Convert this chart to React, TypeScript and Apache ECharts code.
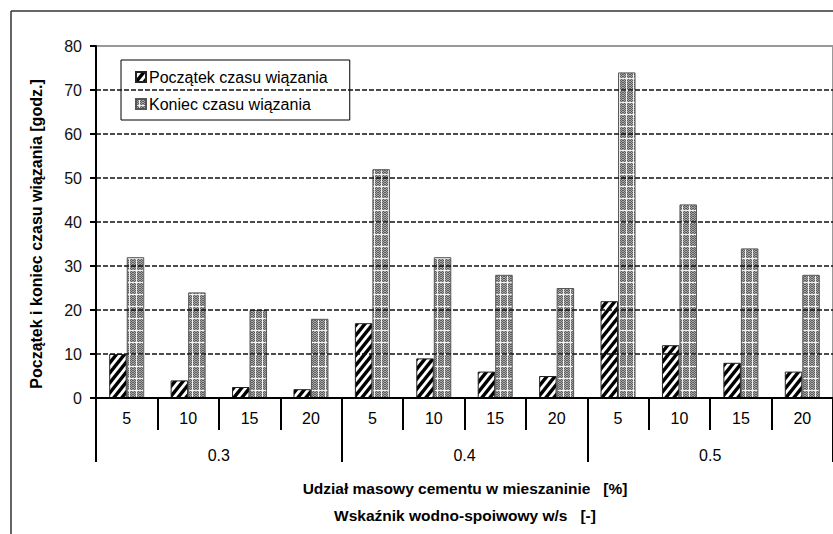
import React, { useEffect, useRef } from 'react';
import * as echarts from 'echarts';

const cementShare = ['5', '10', '15', '20', '5', '10', '15', '20', '5', '10', '15', '20'];
const wsRatio = ['0.3', '0.4', '0.5'];
const startTime = [10, 4, 2.5, 2, 17, 9, 6, 5, 22, 12, 8, 6];
const endTime = [32, 24, 20, 18, 52, 32, 28, 25, 74, 44, 34, 28];
const seriesNames = ['Początek czasu wiązania', 'Koniec czasu wiązania'];
const yTitle = 'Początek i koniec czasu wiązania [godz.]';
const xTitle1 = 'Udział masowy cementu w mieszaninie   [%]';
const xTitle2 = 'Wskaźnik wodno-spoiwowy w/s   [-]';
const yMin = 0;
const yMax = 80;
const yStep = 10;

const FONT = '"Liberation Sans", Arial, sans-serif';

function hatchPattern() {
  const w = 8;
  const h = 10;
  const c = document.createElement('canvas');
  c.width = w;
  c.height = h;
  const g = c.getContext('2d')!;
  g.fillStyle = '#ffffff';
  g.fillRect(0, 0, w, h);
  g.strokeStyle = '#000000';
  g.lineWidth = 3.4;
  g.lineCap = 'square';
  for (const o of [-1, 0, 1]) {
    g.beginPath();
    g.moveTo(o * w, h);
    g.lineTo(o * w + w, 0);
    g.stroke();
  }
  return { image: c.toDataURL(), repeat: 'repeat', imageWidth: w, imageHeight: h };
}

function grayPattern() {
  const w = 7;
  const h = 12;
  const c = document.createElement('canvas');
  c.width = w;
  c.height = h;
  const g = c.getContext('2d')!;
  for (let y = 0; y < h; y++) {
    for (let x = 0; x < w; x++) {
      g.fillStyle = (x + y) % 2 === 0 ? '#5e5e5e' : '#a8a8a8';
      g.fillRect(x, y, 1, 1);
    }
  }
  g.fillStyle = '#f0f0f0';
  g.fillRect(3, 0, 1, h);
  g.fillRect(0, 6, w, 1);
  return { image: c.toDataURL(), repeat: 'repeat', imageWidth: w, imageHeight: h };
}

export default function App() {
  const ref = useRef<HTMLDivElement>(null);
  useEffect(() => {
    if (!ref.current) return;
    const chart = echarts.init(ref.current, undefined, { renderer: 'svg' });
    const nLines = (yMax - yMin) / yStep + 1;
    const splitColors = Array.from({ length: nLines }, (_, i) => (i === nLines - 1 ? '#999999' : '#111111'));
    const option: any = {
      animation: false,
      backgroundColor: '#ffffff',
      textStyle: { fontFamily: FONT },
      grid: {
        left: 96,
        top: 46,
        width: 740,
        height: 352,
        show: true,
        borderColor: '#999999',
        borderWidth: 2,
        backgroundColor: 'transparent',
      },
      legend: {
        orient: 'vertical',
        left: 121,
        top: 60,
        padding: [9, 22, 8, 14],
        itemGap: 11,
        itemWidth: 10,
        itemHeight: 10,
        icon: 'rect',
        backgroundColor: '#ffffff',
        borderColor: '#000000',
        borderWidth: 1,
        borderRadius: 0,
        textStyle: { fontFamily: FONT, fontSize: 16, color: '#000000', padding: [0, 0, 0, -2] },
        data: seriesNames,
      },
      xAxis: [
        {
          type: 'category',
          data: cementShare,
          position: 'bottom',
          axisLine: { show: true, lineStyle: { color: '#000000', width: 2 } },
          axisTick: { show: true, interval: 0, length: 32, lineStyle: { color: '#000000', width: 2 } },
          axisLabel: { interval: 0, fontSize: 16, color: '#000000', margin: 12, fontFamily: FONT },
          splitLine: { show: false },
          z: 5,
        },
        {
          type: 'category',
          data: wsRatio,
          position: 'bottom',
          axisLine: { show: false },
          axisTick: { show: true, interval: 0, length: 64, lineStyle: { color: '#000000', width: 2 } },
          axisLabel: { interval: 0, fontSize: 16, color: '#000000', margin: 49, fontFamily: FONT },
          splitLine: { show: false },
          z: 5,
        },
      ],
      yAxis: {
        type: 'value',
        min: yMin,
        max: yMax,
        interval: yStep,
        axisLine: { show: true, lineStyle: { color: '#000000', width: 2 } },
        axisTick: { show: true, length: 6, lineStyle: { color: '#000000', width: 2 } },
        axisLabel: { fontSize: 16, color: '#111111', margin: 14, fontFamily: FONT },
        splitLine: { show: true, lineStyle: { color: splitColors, width: 1.7, type: [5, 2] } },
        z: 5,
      },
      series: [
        {
          name: seriesNames[0],
          type: 'bar',
          data: startTime,
          barWidth: 17.5,
          barGap: '0%',
          itemStyle: { color: hatchPattern(), borderColor: '#222222', borderWidth: 1 },
          z: 3,
        },
        {
          name: seriesNames[1],
          type: 'bar',
          data: endTime,
          barWidth: 17.5,
          barGap: '0%',
          itemStyle: { color: grayPattern(), borderColor: '#555555', borderWidth: 1 },
          z: 3,
        },
      ],
      graphic: [
        {
          type: 'line',
          shape: { x1: 11, y1: 11, x2: 840, y2: 11 },
          style: { stroke: '#333333', lineWidth: 1.5 },
          silent: true,
        },
        {
          type: 'line',
          shape: { x1: 11, y1: 11, x2: 11, y2: 540 },
          style: { stroke: '#333333', lineWidth: 1.5 },
          silent: true,
        },
        {
          type: 'text',
          x: 36,
          y: 234,
          rotation: Math.PI / 2,
          style: {
            text: yTitle,
            font: `bold 16px ${FONT}`,
            fill: '#000000',
            align: 'center',
            verticalAlign: 'middle',
          },
        },
        {
          type: 'text',
          x: 465,
          y: 488,
          style: {
            text: xTitle1,
            font: `bold 15.5px ${FONT}`,
            fill: '#000000',
            align: 'center',
            verticalAlign: 'middle',
          },
        },
        {
          type: 'text',
          x: 465,
          y: 515,
          style: {
            text: xTitle2,
            font: `bold 15.5px ${FONT}`,
            fill: '#000000',
            align: 'center',
            verticalAlign: 'middle',
          },
        },
      ],
    };
    chart.setOption(option);
    return () => chart.dispose();
  }, []);
  return (
    <div
      ref={ref}
      style={{ position: 'fixed', left: 0, top: 0, width: 833, height: 534, background: '#ffffff' }}
    />
  );
}
